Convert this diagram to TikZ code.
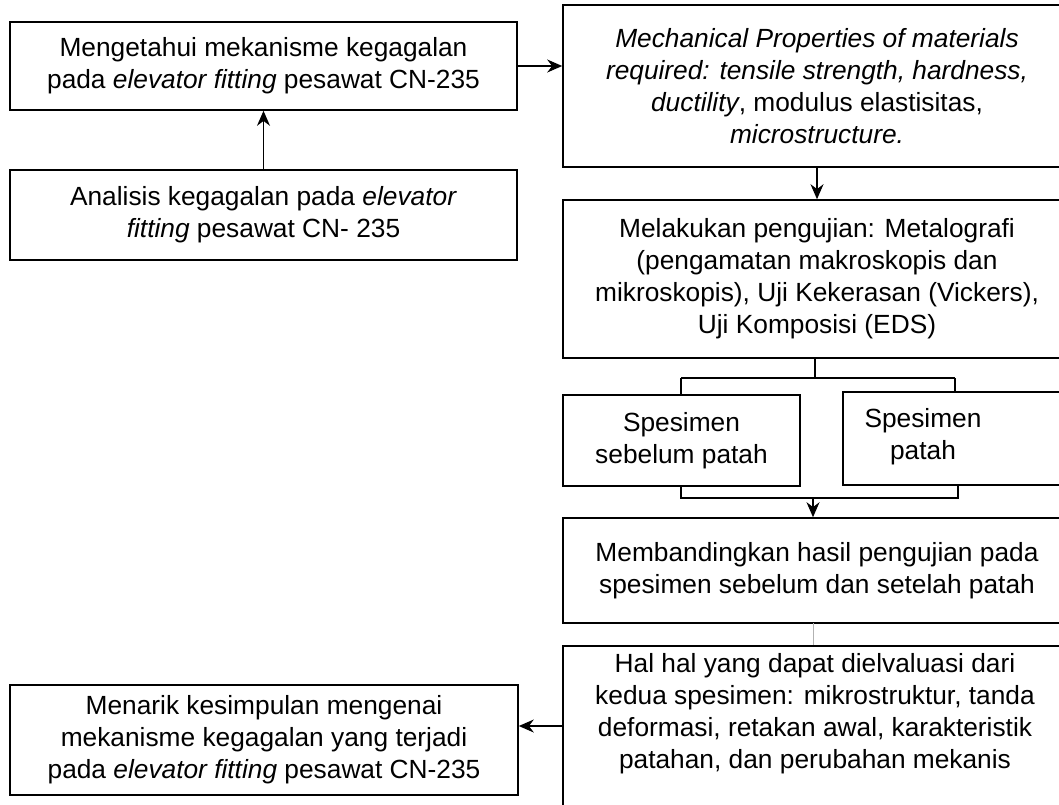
\documentclass[tikz,border=0pt]{standalone}
\usepackage{fontspec}
\setmainfont{Liberation Sans}
\usetikzlibrary{arrows.meta}
\tikzset{
  box/.style={draw, line width=1.6pt, inner sep=0pt, font=\fontsize{26.3}{32}\selectfont, align=center},
  txt/.style={inner sep=0pt, font=\fontsize{26.3}{32}\selectfont, align=center},
  conn/.style={line width=1.2pt},
  arr/.style={conn, -{Stealth[length=15pt,width=13pt]}},
  faint/.style={line width=0.8pt, gray!60}
}
\begin{document}
\begin{tikzpicture}[x=1pt,y=-1pt]
\useasboundingbox (0,0) rectangle (1059,804);
\clip (0,0) rectangle (1059,804);
% left column
\node[box, minimum width=507pt, minimum height=88pt] (b1) at (263.5,66) {Mengetahui mekanisme kegagalan\\pada \textit{elevator fitting} pesawat CN-235};
\node[box, minimum width=507pt, minimum height=90pt] (b2) at (263.5,215) {Analisis kegagalan pada \textit{elevator}\\\textit{fitting} pesawat CN- 235};
\node[box, minimum width=508pt, minimum height=110pt] (b7) at (264,740) {Menarik kesimpulan mengenai\\mekanisme kegagalan yang terjadi\\pada \textit{elevator fitting} pesawat CN-235};
% right column
\node[box, minimum width=508pt, minimum height=162pt] (b3) at (817,86) {\textit{Mechanical Properties of materials}\\\textit{required: tensile strength, hardness,}\\\textit{ductility}, modulus elastisitas,\\\textit{microstructure.}};
\node[box, minimum width=508pt, minimum height=158pt] (b4) at (817,279) {Melakukan pengujian: Metalografi\\(pengamatan makroskopis dan\\mikroskopis), Uji Kekerasan (Vickers),\\Uji Komposisi (EDS)};
\node[box, minimum width=237pt, minimum height=91pt] (s1) at (681.5,440.5) {Spesimen\\sebelum patah};
\node[box, minimum width=240pt, minimum height=93pt] (s2) at (963,438.5) {};
\node[txt] (s2t) at (923,437) {Spesimen\\patah};
\node[box, minimum width=508pt, minimum height=105pt] (b5) at (817,570.5) {Membandingkan hasil pengujian pada\\spesimen sebelum dan setelah patah};
\node[box, minimum width=508pt, minimum height=180pt, anchor=north] (b6) at (817,645) {};
\node[txt] (b6t) at (815,714) {Hal hal yang dapat dielvaluasi dari\\kedua spesimen: mikrostruktur, tanda\\deformasi, retakan awal, karakteristik\\patahan, dan perubahan mekanis};
% connectors
\draw[arr] (b2.north) -- (b1.south);
\draw[arr] (b1.east) -- (b3.west |- b1.east);
\draw[arr] (b3.south) -- (b4.north);
\coordinate (t1) at (815,378);
\coordinate (t2) at (681,378);
\coordinate (t3) at (955,378);
\draw[conn] (b4.south -| t1) -- (t1);
\draw[conn] (t2) -- (t3);
\draw[conn] (t2) -- (t2 |- s1.north);
\draw[conn] (t3) -- (t3 |- s2.north);
\coordinate (u1) at (681,498);
\coordinate (u2) at (958,498);
\coordinate (u3) at (813,498);
\draw[conn] (u1 |- s1.south) -- (u1) -- (u2) -- (u2 |- s2.south);
\draw[arr] (u3) -- (u3 |- b5.north);
\draw[faint] (813,623) -- (813,645);
\draw[arr] (b6.west |- 0,726) -- (b7.east |- 0,726);
\end{tikzpicture}
\end{document}
